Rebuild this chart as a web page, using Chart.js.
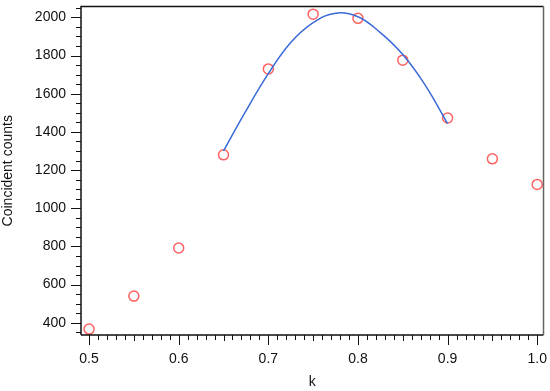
<!DOCTYPE html>
<html>
<head>
<meta charset="utf-8">
<script src="https://cdn.jsdelivr.net/npm/chart.js@4"></script>
<style>
  html, body { margin: 0; padding: 0; background: #fff; }
  #wrap { width: 550px; height: 391px; }
</style>
</head>
<body>
<div id="wrap"><canvas id="chart" width="550" height="391"></canvas></div>
<script>
// Measured points (red circles)
const kValues = [0.5, 0.55, 0.6, 0.65, 0.7, 0.75, 0.8, 0.85, 0.9, 0.95, 1.0];
const counts = [367, 540, 792, 1280, 1730, 2017, 1995, 1776, 1473, 1259, 1125];

// Fitted curve (blue line)
const fitK = [0.65, 0.675, 0.7, 0.725, 0.75, 0.775, 0.8, 0.825, 0.85, 0.875, 0.9];
const fitCounts = [1300, 1510, 1705, 1868, 1972, 2022, 2003, 1920, 1805, 1645, 1443];

// Tick labels
const xTicks = [0.5, 0.6, 0.7, 0.8, 0.9, 1.0];
const yTicks = [400, 600, 800, 1000, 1200, 1400, 1600, 1800, 2000];

const textColor = '#111';
const font = { family: 'Arial, "Liberation Sans", sans-serif', size: 14 };

// Frame and tick marks (major + minor)
const framePlugin = {
    id: 'frame',
    afterDatasetsDraw(chart) {
        const { ctx, chartArea: a, scales } = chart;
        ctx.save();
        ctx.lineWidth = 1.5;
        ctx.strokeStyle = '#111';
        ctx.beginPath();
        ctx.moveTo(a.left, a.bottom);
        ctx.lineTo(a.left, a.top);
        ctx.lineTo(a.right, a.top);
        ctx.moveTo(a.left, a.bottom);
        ctx.lineTo(a.right, a.bottom);
        ctx.stroke();
        ctx.strokeStyle = '#666';
        ctx.beginPath();
        ctx.moveTo(a.right, a.top);
        ctx.lineTo(a.right, a.bottom);
        ctx.stroke();

        ctx.lineWidth = 1;
        ctx.strokeStyle = '#111';
        ctx.beginPath();
        // x ticks every 0.01, major every 0.1
        for (let i = 50; i <= 100; i++) {
            const x = Math.round(scales.x.getPixelForValue(i / 100)) + 0.5;
            const len = i % 10 === 0 ? 10 : (i % 5 === 0 ? 6 : 5);
            ctx.moveTo(x, a.bottom);
            ctx.lineTo(x, a.bottom + len);
        }
        // y ticks every 50, major every 200
        for (let v = 350; v <= 2050; v += 50) {
            const y = Math.round(scales.y.getPixelForValue(v)) + 0.5;
            const len = v % 200 === 0 ? 10 : 5;
            ctx.moveTo(a.left, y);
            ctx.lineTo(a.left - len, y);
        }
        ctx.stroke();
        ctx.restore();
    }
};

new Chart(document.getElementById('chart'), {
    type: 'scatter',
    data: {
        datasets: [{
            label: 'fit',
            data: fitK.map((k, i) => ({ x: k, y: fitCounts[i] })),
            showLine: true,
            borderColor: '#3a6ad8',
            borderWidth: 1.5,
            pointRadius: 0,
            tension: 0.4,
            fill: false
        }, {
            label: 'counts',
            data: kValues.map((k, i) => ({ x: k, y: counts[i] })),
            showLine: false,
            pointStyle: 'circle',
            pointRadius: 5,
            pointBorderWidth: 1.5,
            borderColor: '#ff6262',
            backgroundColor: 'rgba(0,0,0,0)'
        }]
    },
    options: {
        responsive: false,
        animation: false,
        layout: { padding: { top: 4, right: 6, left: 0, bottom: 0 } },
        plugins: {
            legend: { display: false },
            tooltip: { enabled: false }
        },
        scales: {
            x: {
                type: 'linear',
                min: 0.491,
                max: 1.007,
                afterBuildTicks: s => { s.ticks = xTicks.map(v => ({ value: v })); },
                afterFit: s => { s.height = 56; s.paddingLeft = 0; s.paddingRight = 0; },
                grid: { display: false },
                border: { display: false },
                ticks: {
                    color: textColor,
                    font: font,
                    padding: 8,
                    maxRotation: 0,
                    callback: v => v.toFixed(1)
                },
                title: {
                    display: true,
                    text: 'k',
                    color: textColor,
                    font: font,
                    padding: { top: 0, bottom: 0 }
                }
            },
            y: {
                min: 336,
                max: 2057,
                afterBuildTicks: s => { s.ticks = yTicks.map(v => ({ value: v })); },
                afterFit: s => { s.width = 81; s.paddingTop = 0; s.paddingBottom = 0; },
                grid: { display: false },
                border: { display: false },
                ticks: {
                    color: textColor,
                    font: font,
                    padding: 7,
                    callback: v => String(v)
                },
                title: {
                    display: true,
                    text: 'Coincident counts',
                    color: textColor,
                    font: font,
                    padding: { top: 0, bottom: 0 }
                }
            }
        }
    },
    plugins: [framePlugin]
});
</script>
</body>
</html>
